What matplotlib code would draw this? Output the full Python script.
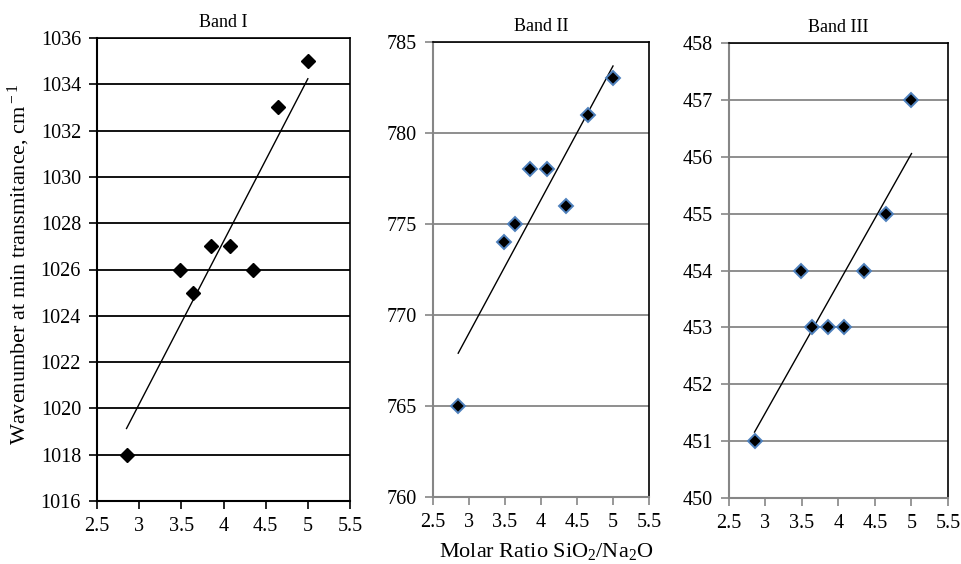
import numpy as np
from matplotlib import pyplot as plt

plt.rcParams['font.family'] = ['Liberation Serif', 'DejaVu Serif']
plt.rcParams['mathtext.fontset'] = 'custom'
plt.rcParams['mathtext.rm'] = 'Liberation Serif'
plt.rcParams['mathtext.it'] = 'Liberation Serif:italic'

# molar ratio SiO2/Na2O of the samples
ratio = [2.85, 3.48, 3.64, 3.85, 4.08, 4.35, 4.65, 5.0]
band1 = [1018, 1026, 1025, 1027, 1027, 1026, 1033, 1035]
band2 = [765, 774, 775, 778, 778, 776, 781, 783]
band3 = [451, 454, 453, 453, 453, 454, 455, 457]

titles = ['Band I', 'Band II', 'Band III']
ylims = [(1016, 1036, 2), (760, 785, 5), (450, 458, 1)]
xticks = [2.5, 3, 3.5, 4, 4.5, 5, 5.5]

W, H = 962, 564
# axes boxes in pixels: left, top, right, bottom
boxes = [(97, 38, 350, 501), (433, 42, 649, 497), (729, 43, 948, 498)]

fig = plt.figure(figsize=(W / 100, H / 100), dpi=100)
gray = '#868686'

for i, values in enumerate([band1, band2, band3]):
    l, t, r, b = boxes[i]
    ax = fig.add_axes([l / W, (H - b) / H, (r - l) / W, (b - t) / H])
    lo, hi, step = ylims[i]
    ax.set_ylim(lo, hi)
    ax.set_yticks(np.arange(lo, hi + step / 2, step))
    ax.set_xlim(2.5, 5.5)
    ax.set_xticks(xticks)
    ax.set_xticklabels([f'{v:g}' for v in xticks])

    line_col = 'black' if i == 0 else gray
    ax.yaxis.grid(True, color=line_col, lw=1.3)
    ax.set_axisbelow(True)
    for side in ['left', 'bottom']:
        ax.spines[side].set_color(line_col)
        ax.spines[side].set_linewidth(1.5)
    for side in ['top', 'right']:
        ax.spines[side].set_color('black')
        ax.spines[side].set_linewidth(1.2)
    ax.tick_params(direction='out', length=6, width=1.2, color=line_col,
                   labelsize=14.5, pad=5.5)

    # linear trend line
    k, c = np.polyfit(ratio, values, 1)
    xs = np.array([min(ratio), max(ratio)])
    ax.plot(xs, k * xs + c, color='black', lw=1.0, zorder=3)

    if i == 0:
        ax.plot(ratio, values, 'D', color='black', ms=7.5, zorder=4)
    else:
        ax.plot(ratio, values, 'D', mfc='black', mec='#4F81BD', mew=1.4,
                ms=7.5, zorder=4)
    ax.set_title(titles[i], fontsize=13, pad=8)

fig.text(19 / W, (H - 264) / H, 'Wavenumber at min transmitance, cm$^{\\rm -1}$',
         rotation=90, va='center', ha='center', fontsize=16)
fig.text(546 / W, (H - 552) / H, 'Molar Ratio SiO$_{\\rm 2}$/Na$_{\\rm 2}$O',
         ha='center', va='center', fontsize=16)

fig.savefig('out.png', dpi=100)
